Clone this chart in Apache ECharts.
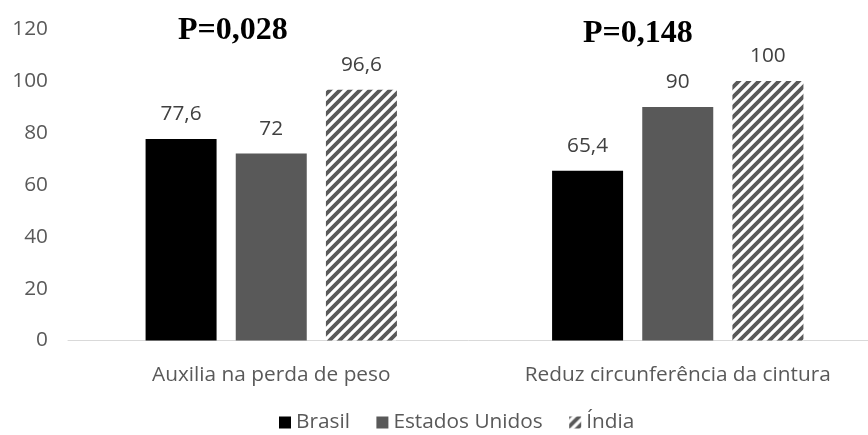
<!DOCTYPE html>
<html>
<head>
<meta charset="utf-8">
<script src="https://cdn.jsdelivr.net/npm/echarts@6/dist/echarts.min.js"></script>
<style>
  html, body { margin: 0; padding: 0; background: #fff; }
  #chart { width: 868px; height: 435px; }
</style>
</head>
<body>
<div id="chart"></div>
<script>
// Categories and values per country
const categories = ['Auxilia na perda de peso', 'Reduz circunferência da cintura'];
const seriesNames = ['Brasil', 'Estados Unidos', 'Índia'];
const brasil = [77.6, 65.4];
const estadosUnidos = [72, 90];
const india = [96.6, 100];
const yTicks = { min: 0, max: 120, interval: 20 };
const pValues = ['P=0,028', 'P=0,148'];

// Diagonal stripe fill for the hatched series
function stripePattern() {
  const size = 10;
  const c = document.createElement('canvas');
  c.width = size; c.height = size;
  const g = c.getContext('2d');
  g.fillStyle = '#ffffff';
  g.fillRect(0, 0, size, size);
  g.strokeStyle = '#595959';
  g.lineWidth = 3.8;
  g.beginPath();
  g.moveTo(-2, size + 2); g.lineTo(size + 2, -2);
  g.moveTo(-2, 2); g.lineTo(2, -2);
  g.moveTo(size - 2, size + 2); g.lineTo(size + 2, size - 2);
  g.stroke();
  return c;
}

const chart = echarts.init(document.getElementById('chart'), null, { renderer: 'canvas' });
const font = '"Open Sans", sans-serif';
const fs = 20.8;
const labelCfg = {
  show: true, position: 'top', distance: 14,
  color: '#404040', fontSize: fs, fontFamily: font,
  formatter: p => String(p.value).replace('.', ',')
};

chart.setOption({
  animation: false,
  grid: { left: 68, width: 813, top: 29, bottom: 94.5, outerBoundsMode: 'none', containLabel: false },
  legend: {
    left: 279, top: 412, padding: 0, icon: 'rect',
    itemWidth: 12, itemHeight: 12, itemGap: 26.5,
    textStyle: { color: '#595959', fontSize: fs, fontFamily: font },
    data: seriesNames
  },
  xAxis: {
    type: 'category', data: categories,
    axisLine: { lineStyle: { color: '#d9d9d9', width: 1 } },
    axisTick: { show: false },
    axisLabel: { color: '#595959', fontSize: fs, fontFamily: font, margin: 24 }
  },
  yAxis: {
    type: 'value', min: yTicks.min, max: yTicks.max, interval: yTicks.interval,
    axisLine: { show: false }, axisTick: { show: false },
    splitLine: { show: false },
    axisLabel: { color: '#595959', fontSize: fs, fontFamily: font, margin: 20 }
  },
  series: [
    { name: seriesNames[0], type: 'bar', data: brasil, barWidth: 71, barGap: '27%',
      itemStyle: { color: '#000000' }, label: labelCfg },
    { name: seriesNames[1], type: 'bar', data: estadosUnidos, barWidth: 71, barGap: '27%',
      itemStyle: { color: '#595959' }, label: labelCfg },
    { name: seriesNames[2], type: 'bar', data: india, barWidth: 71, barGap: '27%',
      itemStyle: { color: { image: stripePattern(), repeat: 'repeat' } }, label: labelCfg }
  ],
  graphic: [
    { type: 'text', left: 178, top: 15,
      style: { text: pValues[0], font: 'bold 32px "Liberation Serif", serif', fill: '#000' } },
    { type: 'text', left: 583, top: 18,
      style: { text: pValues[1], font: 'bold 32px "Liberation Serif", serif', fill: '#000' } }
  ]
});
</script>
</body>
</html>
